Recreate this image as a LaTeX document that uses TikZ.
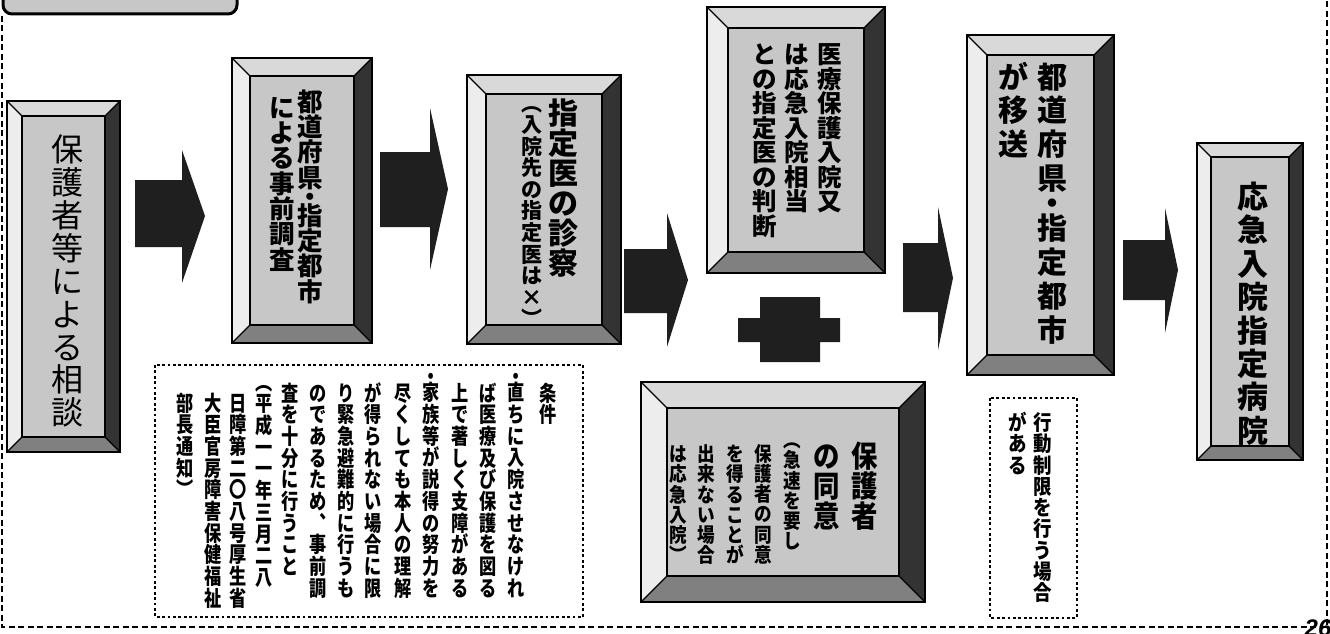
\documentclass[tikz,border=0pt]{standalone}
\usepackage{fontspec}
\usetikzlibrary{calc}
\newfontfamily\jp{Noto Sans CJK JP}
\newfontfamily\jpn{Noto Sans CJK JP}[FakeStretch=0.88]
\newfontfamily\jpc{Noto Sans CJK JP}[FakeStretch=0.8]
\newfontfamily\lib{Liberation Sans}
\definecolor{faceG}{gray}{0.78}
\definecolor{bvLc}{gray}{0.93}
\definecolor{bvTc}{gray}{0.85}
\definecolor{bvRc}{gray}{0.2}
\definecolor{bvBc}{gray}{0.5}
\definecolor{arrowc}{gray}{0.12}
\definecolor{tabG}{gray}{0.78}
\ExplSyntaxOn
\dim_new:N \l__vt_p_dim
\cs_new_protected:Npn \__vt_cell:nnn #1#2#3
  {
    \vbox_to_ht:nn {#1}
      { \vss \hbox_to_wd:nn {1em} { \hss \smash{\raisebox{#2}{#3}} \hss } \vss }
  }
\NewDocumentCommand \vtext { m m }
  {
    \dim_set:Nn \l__vt_p_dim {#1}
    \vbox:n
      {
        \offinterlineskip
        \tl_map_inline:nn {#2}
          {
            \str_case:nnF {##1}
              {
                {・}{ \__vt_cell:nnn {0.5\l__vt_p_dim} {-0.38em} {##1} }
                {︵}{ \__vt_cell:nnn {0.5\l__vt_p_dim} {-0.13em} {##1} }
                {︶}{ \__vt_cell:nnn {0.5\l__vt_p_dim} {-0.63em} {##1} }
              }
              { \__vt_cell:nnn {\l__vt_p_dim} {-0.38em} {##1} }
          }
      }
  }
\ExplSyntaxOff
\newcommand\bevelbox[6]{%
  \fill[bvLc] (#2,#3) -- ({#2+#6},{#3+#6}) -- ({#2+#6},{#5-#6}) -- (#2,#5) -- cycle;
  \fill[bvTc] (#2,#3) -- (#4,#3) -- ({#4-#6},{#3+#6}) -- ({#2+#6},{#3+#6}) -- cycle;
  \fill[bvRc] (#4,#3) -- (#4,#5) -- ({#4-#6},{#5-#6}) -- ({#4-#6},{#3+#6}) -- cycle;
  \fill[bvBc] (#2,#5) -- (#4,#5) -- ({#4-#6},{#5-#6}) -- ({#2+#6},{#5-#6}) -- cycle;
  \draw[diag] (#2,#3) -- ({#2+#6},{#3+#6}) (#4,#3) -- ({#4-#6},{#3+#6})
              (#2,#5) -- ({#2+#6},{#5-#6}) (#4,#5) -- ({#4-#6},{#5-#6});
  \node[face, minimum width={(#4-#2-2*#6)*1pt}, minimum height={(#5-#3-2*#6)*1pt}]
       (#1) at ({(#2+#4)/2},{(#3+#5)/2}) {};
  \draw[outerln] (#2,#3) rectangle (#4,#5);
}
\newcommand\blockarrow[8]{% rx1, rx2, ry1, ry2, hy1, hy2, tipx, tipy
  \fill[arrowc] (#1,#3) -- (#2,#3) -- (#2,#5) -- (#7,#8) -- (#2,#6) -- (#2,#4) -- (#1,#4) -- cycle;
}
\tikzset{
  vt/.style={inner sep=0pt, outer sep=0pt, anchor=north, text=black},
  face/.style={draw=black, line width=1.8pt, fill=faceG, inner sep=0pt},
  outerln/.style={draw=black, line width=2.4pt},
  diag/.style={draw=black, line width=1.3pt},
  dotbox/.style={draw=black, line width=2.8pt, dash pattern=on 2.8pt off 2.6pt},
  frame/.style={draw=black, line width=2.2pt, dash pattern=on 6pt off 3.5pt},
}
\begin{document}
\begin{tikzpicture}[x=1pt,y=-1pt]
\useasboundingbox (0,0) rectangle (1330,634);
\fill[white] (0,0) rectangle (1330,634);
% top-left tab and frame
\draw[line width=3pt, fill=tabG, rounded corners=9pt] (3,-30) rectangle (237,14);
\draw[frame] (2,16) -- (2,627) -- (1327,627) -- (1327,0);
\node[font=\lib\bfseries\itshape\fontsize{24}{24}\selectfont, anchor=base, inner sep=0pt] (pg) at (1318,636) {26};

% boxes
\bevelbox{b1}{7}{101}{120}{452}{15}
\bevelbox{b2}{232}{58}{372}{343}{18}
\bevelbox{b3}{467}{75}{621}{344}{19}
\bevelbox{b4}{707}{7}{885}{273}{21}
\bevelbox{b5}{641}{382}{925}{602}{26}
\bevelbox{b6}{967}{35}{1114}{375}{20}
\bevelbox{b7}{1197}{143}{1303}{460}{14}

% arrows
\blockarrow{135}{182}{180}{247}{150}{283}{205}{216}
\blockarrow{380}{430}{152}{227}{108}{270}{448}{189}
\blockarrow{624}{667}{249}{313}{213}{347}{688}{280}
\blockarrow{903}{938}{243}{312}{207}{350}{953}{278}
\blockarrow{1123}{1165}{240}{300}{208}{333}{1178}{270}
% plus
\fill[arrowc] (738,318) -- (760,318) -- (760,297) -- (820,297) -- (820,318) -- (840,318)
  -- (840,342) -- (820,342) -- (820,362) -- (760,362) -- (760,342) -- (738,342) -- cycle;

% box texts
\node[vt, font=\jp\fontsize{32}{32}\selectfont] (t1) at (67,133) {\vtext{32.9pt}{保護者等による相談}};
\node[vt, font=\jp\bfseries\fontsize{25.5}{25.5}\selectfont] (t2a) at (310,89) {\vtext{25.3pt}{都道府県・指定都市}};
\node[vt, font=\jp\bfseries\fontsize{25.5}{25.5}\selectfont] (t2b) at (282,95) {\vtext{25.3pt}{による事前調査}};
\node[vt, font=\jp\bfseries\fontsize{30}{30}\selectfont] (t3a) at (563,98.5) {\vtext{30pt}{指定医の診察}};
\node[vt, font=\jp\bfseries\fontsize{21}{21}\selectfont] (t3b) at (532,103) {\vtext{21.6pt}{︵入院先の指定医は×︶}};
\node[vt, font=\jp\bfseries\fontsize{24.5}{24.5}\selectfont] (t4a) at (830,42) {\vtext{24.5pt}{医療保護入院又}};
\node[vt, font=\jp\bfseries\fontsize{24.5}{24.5}\selectfont] (t4b) at (797,42) {\vtext{24.5pt}{は応急入院相当}};
\node[vt, font=\jp\bfseries\fontsize{24.5}{24.5}\selectfont] (t4c) at (765,42) {\vtext{24.5pt}{との指定医の判断}};
\node[vt, font=\jpn\bfseries\fontsize{30}{30}\selectfont] (t5a) at (865,441.5) {\vtext{30pt}{保護者}};
\node[vt, font=\jpn\bfseries\fontsize{30}{30}\selectfont] (t5b) at (827,441.5) {\vtext{30pt}{の同意}};
\node[vt, font=\jpn\bfseries\fontsize{20}{20}\selectfont] (t5c) at (792,440) {\vtext{20.2pt}{︵急速を要し}};
\node[vt, font=\jpn\bfseries\fontsize{20}{20}\selectfont] (t5d) at (763.5,443.5) {\vtext{20.2pt}{保護者の同意}};
\node[vt, font=\jpn\bfseries\fontsize{20}{20}\selectfont] (t5e) at (735,444) {\vtext{20.2pt}{を得ることが}};
\node[vt, font=\jpn\bfseries\fontsize{20}{20}\selectfont] (t5f) at (706.5,444) {\vtext{20.2pt}{出来ない場合}};
\node[vt, font=\jpn\bfseries\fontsize{20}{20}\selectfont] (t5g) at (678,444) {\vtext{20.2pt}{は応急入院︶}};
\node[vt, font=\jp\bfseries\fontsize{30}{30}\selectfont] (t6a) at (1052,60) {\vtext{33.7pt}{都道府県・指定都市}};
\node[vt, font=\jp\bfseries\fontsize{30}{30}\selectfont] (t6b) at (1013,60) {\vtext{33.7pt}{が移送}};
\node[vt, font=\jp\bfseries\fontsize{31}{31}\selectfont] (t7) at (1253,180) {\vtext{33.4pt}{応急入院指定病院}};

% conditions box
\draw[dotbox] (155,365) rectangle (583,617);
\tikzset{ct/.style={vt, font=\jpc\bfseries\fontsize{21.5}{21.5}\selectfont}}
\node[ct] (c14) at (548,382) {\vtext{21.7pt}{条件}};
\node[ct] (c13) at (516,371) {\vtext{21.7pt}{・直ちに入院させなけれ}};
\node[ct] (c12) at (488,382) {\vtext{21.7pt}{ば医療及び保護を図る}};
\node[ct] (c11) at (460,382) {\vtext{21.7pt}{上で著しく支障がある}};
\node[ct] (c10) at (431,371) {\vtext{21.7pt}{・家族等が説得の努力を}};
\node[ct] (c9) at (403,382) {\vtext{21.7pt}{尽くしても本人の理解}};
\node[ct] (c8) at (373,382) {\vtext{21.7pt}{が得られない場合に限}};
\node[ct] (c7) at (346,382) {\vtext{21.7pt}{り緊急避難的に行うも}};
\node[ct] (c6) at (318,382) {\vtext{21.7pt}{のであるため︑事前調}};
\node[ct] (c5) at (290,382) {\vtext{21.7pt}{査を十分に行うこと}};
\node[ct] (c4) at (264,382) {\vtext{21.7pt}{︵平成一一年三月二八}};
\node[ct] (c3) at (238,392) {\vtext{21.7pt}{日障第二〇八号厚生省}};
\node[ct] (c2) at (213,392) {\vtext{21.7pt}{大臣官房障害保健福祉}};
\node[ct] (c1) at (185,392) {\vtext{21.7pt}{部長通知︶}};

% restraint note
\draw[dotbox] (990,398) rectangle (1077,618);
\node[vt, font=\jpn\bfseries\fontsize{21}{21}\selectfont] (r1) at (1043,412) {\vtext{21.25pt}{行動制限を行う場合}};
\node[vt, font=\jpn\bfseries\fontsize{21}{21}\selectfont] (r2) at (1018,412) {\vtext{21.25pt}{がある}};
\end{tikzpicture}
\end{document}
